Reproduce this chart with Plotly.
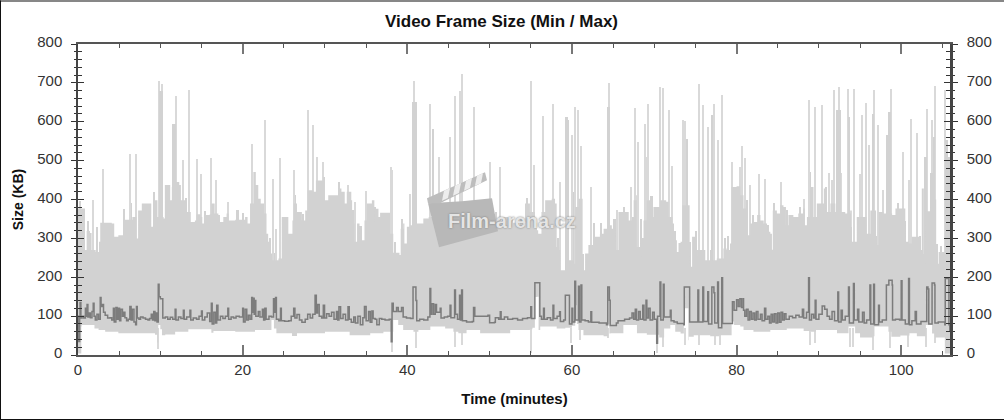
import plotly.graph_objects as go

# Upper edge of the Max band (minutes, KB)
max_edge = [(0,377),(0.8,377),(0.85,270),(1.05,319),(1.45,314),(1.65,270),(2.15,265),(2.55,291),(2.7,340),(4.1,338),(4.4,304),
(4.9,308),(5.5,312),(5.7,348),(6.6,355),(7.1,300),(7.3,372),(7.75,390),(8.6,390),(8.9,330),(9.2,398),(9.5,398),(9.65,355),
(10.4,351),(10.55,437),(11.1,437),(11.2,398),(11.4,432),(11.8,445),(12.3,437),(12.5,398),(13.0,390),(13.2,368),(13.6,368),
(13.7,342),(14.2,346),(14.4,362),(14.9,355),(15.1,338),(15.3,360),(16.0,362),(16.2,390),(16.6,364),(17.05,342),(17.65,355),
(18.05,364),(18.3,346),(19.1,348),(20.3,355),(20.6,338),(20.9,390),(21.3,471),(21.6,437),(21.9,402),(22.2,390),(22.6,364),
(22.9,312),(23.1,291),(23.3,261),(23.6,244),(24.35,248),(24.75,355),(25.55,312),(26.05,346),(26.2,390),(26.6,368),(27.2,346),
(27.6,372),(27.9,424),(28.6,420),(28.9,449),(29.8,458),(30.0,398),(30.4,411),(31.2,411),(31.6,428),(32,420),(32.4,390),
(32.65,420),(33.2,398),(33.3,338),(33.6,291),(33.9,338),(34.2,304),(34.5,295),(34.8,346),(35.1,390),(35.7,398),(36,342),
(36.2,376),(36.5,355),(36.7,366),(37.7,366),(37.9,312),(38.3,263),(39.05,257),(39.2,325),(39.5,338),(39.65,287),(39.95,330),
(40.35,334),(41.15,338),(41.95,351),(42.6,355),(43.5,345),(44.5,352),(45.5,330),(46.5,340),(47.5,345),(48.5,345),(49.5,340),
(50.5,345),(51.5,355),(52.5,340),(53.5,335),(54.0,335),(54.3,390),(54.9,368),(55.5,321),(55.9,312),(56.3,368),(56.75,398),
(57.55,402),(57.95,390),(58.15,278),(58.45,270),(58.6,218),(59.1,218),(59.2,244),(60.25,235),(60.4,381),(60.8,402),(61.2,402),
(61.3,218),(61.5,218),(61.6,261),(62,283),(62.6,304),(63,304),(63.4,312),(63.85,325),(64.45,334),(64.85,325),(65.25,270),
(65.65,368),(66.9,346),(67.3,355),(67.5,398),(67.8,411),(67.9,278),(68.3,304),(68.5,253),(68.7,346),(69.1,398),(69.5,355),
(69.9,381),(70.7,398),(71.45,394),(71.75,355),(72.2,338),(72.4,295),(72.75,265),(72.95,288),(73.2,291),(73.4,385),(74.2,385),
(74.3,227),(74.45,227),(74.6,304),(75,253),(75.2,270),(75.8,270),(76.2,244),(76.8,234),(77.1,244),(77.6,248),(78.2,248),
(78.4,274),(78.8,270),(79.2,287),(79.4,432),(80,434),(80.45,411),(80.85,377),(81.2,308),(81.65,338),(82.1,342),(82.5,360),
(82.9,346),(83.3,338),(83.7,317),(84.1,312),(84.3,271),(84.4,372),(84.9,364),(85.3,385),(85.7,381),(86,334),(86.3,360),
(86.9,355),(87.5,364),(88.1,377),(88.3,334),(88.55,355),(88.95,432),(89.35,355),(89.75,390),(90.6,428),(90.8,368),(91.4,390),
(92,368),(93.2,364),(93.8,372),(94,291),(94.6,355),(95.4,355),(95.8,312),(96.25,372),(96.95,283),(97.25,368),(97.85,364),
(98.9,360),(99.3,377),(100.1,377),(100.5,291),(100.9,287),(101.3,304),(101.9,304),(102.25,270),(102.5,428),(102.75,227),
(102.95,370),(103.55,380),(104.0,400),(104.25,235),(104.55,265),(105.15,265),(105.35,420),(105.95,420)]

# Lower edge of the Min band (minutes, KB)
min_edge = [(0,0),(0.4,4),(0.45,73),(0.65,77),(2,77),(2.5,68),(3.3,64),(4.9,60),(6.9,56),(9.35,56),(9.65,52),(9.75,32),
(10,77),(10.2,66),(10.6,51),(11.8,53),(13.4,60),(15,66),(16.2,66),(16.45,57),(19.1,62),(21.5,60),(23.5,64),(23.8,90),(24.1,68),
(26,56),(26.6,49),(28,56),(30,56),(31.6,60),(33,60),(33.25,51),(35.5,51),(37.1,56),(38.3,60),
(38.9,90),(39.5,77),(40.75,64),(41.35,60),(42.8,64),(44.6,73),(45.6,68),
(46.2,60),(47.2,56),(48.85,64),(50.45,56),(52.5,56),(54.9,64),(55.2,66),
(55.5,70),(55.55,150),(55.95,150),(56.15,64),(58.15,73),(59.2,68),(60.0,70),(60.4,75),(60.6,128),
(60.8,80),(61.4,64),(63.85,51),(64.4,48),(64.55,80),(64.7,55),(66.25,56),(67.9,77),(69.1,56),(70.6,52),
(71.2,45),(71.95,68),(72.55,77),(73.2,60),(73.6,55),(73.8,120),(74.15,120),(74.2,38),
(74.8,47),(75.5,51),(76.8,51),(77.9,48),(79.4,51),(79.7,86),
(80.45,77),(80.85,73),(82.05,64),(84.1,60),(86.1,64),(88.15,68),(89.05,62),
(89.65,60),(92.2,64),(93.6,56),(94.4,73),(95,56),(96.6,45),
(96.75,48),(98.45,73),(98.8,60),(99.9,47),(101,50),(101.9,56),(103,48),
(103.75,77),(104.1,55),(105.3,45),(105.35,4),(105.95,4)]

# Downward Min spikes (minutes, KB bottom)
low_t = [9.7,38.15,41.05,45.85,46.65,55.05,59.85,61.05,64.45,70.35,71.1,73.7,75.4,77.4,78,88.9,89.55,93.85,94.15,96.65,98.7,100.9,103.05,104.15]
low_kb = [15,8,17,20,26,5,30,38,43,6,21,26,26,26,26,26,30,21,21,13,17,21,21,30]

# Thin Max spikes (minutes, KB top)
spike_t = [1.85,3.1,6.3,7.1,9.85,10.25,11.9,12.7,13.5,14.4,15,16.15,16.8,18.2,21.1,22.7,23.75,24.0,24.6,26.2,28,28.5,29,29.8,
32.85,33.65,35,38,38.2,40.35,40.87,42.75,43.8,45.2,45.8,46.35,46.6,48.05,50,51.3,55,55.4,56.55,57.7,58.5,60,60.35,60.8,
61.1,62.3,64.45,65.45,67.15,67.7,68,68.9,69.1,69.3,70.7,71.1,71.85,72.2,73.5,73.7,75.4,75.9,76.5,77.3,77.7,78.2,
79.45,80.4,80.7,81.05,81.6,82.7,83.4,85.4,88.15,88.75,89.55,90.35,91.25,91.6,91.9,92.4,92.7,93.6,94.25,95,95.3,95.75,
96.15,96.75,97.2,97.8,98.75,100.2,100.9,101.25,101.95,103.1,103.8,104.05,105.35]
spike_kb = [398,479,518,516,706,698,665,502,682,505,466,507,449,394,543,605,454,323,507,475,629,591,509,496,
437,394,422,484,475,415,706,646,509,562,665,680,723,638,496,484,706,488,616,646,445,565,639,629,
537,432,699,372,432,636,548,595,509,646,689,687,629,485,605,602,698,642,586,646,552,670,
497,484,537,508,437,465,454,445,402,657,638,642,467,449,682,689,467,685,685,465,618,648,
539,681,591,424,685,522,449,608,571,633,605,691,682]

# Shorter Max spikes, inside gaps of the band edge (minutes, KB top)
short_t = [0.3,1.2,2.3,5.6,6.4,8.8,9.3,12.15,13.1,15.5,17.2,19.4,20.1,23.35,23.9,25.4,26.4,27.4,31.7,33.4,34.35,36.1,37.9,38.5,39.35,
44.2,46.1,47.4,49.6,50.8,52.7,53.9,54.6,55.7,58.3,59.4,60.1,61.4,62.7,63.6,65.2,66.4,68.4,68.6,69.7,72.6,74.4,75.1,76.0,76.9,
78.6,79.0,81.3,82.0,83.9,84.6,86.2,87.7,89.0,90.9,93.9,95.6,97.0,99.6,100.5,102.3,102.8,104.4,104.9]
short_kb = [395,345,330,375,392,360,420,430,405,370,360,372,366,300,262,340,412,362,445,372,332,380,350,290,350,
385,380,372,362,368,352,350,405,340,300,270,420,260,340,340,350,380,350,300,410,320,290,320,310,270,
300,305,400,360,335,392,372,382,470,432,330,345,305,392,345,305,260,285,280]

# Wider Max blocks (minutes, KB top)
block_t = [9.95,10.2,11.55,11.7,40.7,41.0,43.15,59.35,59.55,64.45,74.0,77.0,92.25,92.5,93.65,96.6,98.35,98.6,102.95,103.7,104.0,105.5,105.75]
block_kb = [680,680,595,595,650,650,582,612,605,638,556,617,629,629,612,620,565,625,509,467,560,552,510]

# Average frame-size line (minutes, KB)
avg_line = [(0,100),(0.1,35),(0.2,100),(0.25,135),(0.35,95),(0.5,100),(0.7,95),(0.9,120),(1,100),(1.1,130),(1.2,98),(1.35,108),(1.5,96),
(1.7,112),(1.85,133),(1.95,100),(2.1,90),(2.3,105),(2.5,92),(2.7,148),(2.8,125),(2.95,130),(3.1,110),(3.3,102),(3.6,95),(3.9,96),
(4.1,90),(4.3,120),(4.4,85),(4.6,122),(4.75,92),(4.9,120),(5.05,88),(5.2,118),(5.4,100),(5.55,110),(5.7,96),(5.9,88),(6.1,92),
(6.3,125),(6.45,90),(6.6,118),(6.8,85),(7,78),(7.1,125),(7.2,95),(7.4,92),(7.6,98),(7.9,95),(8.2,92),(8.5,90),(8.7,94),(8.9,105),
(9.05,90),(9.2,112),(9.35,88),(9.5,108),(9.6,85),(9.75,182),(9.85,150),(10,145),(10.25,145),(10.3,95),(10.6,98),(10.9,92),(11.2,97),
(11.5,92),(11.8,118),(11.9,90),(12.2,98),(12.5,94),(12.8,115),(12.9,92),(13.2,98),(13.6,115),(13.7,90),(14,95),(14.4,92),(14.7,100),
(15,113),(15.1,90),(15.4,98),(15.7,108),(16,86),(16.2,133),(16.3,80),(16.5,110),(16.7,82),(16.85,128),(17,90),(17.3,100),(17.6,94),
(17.9,100),(18.2,120),(18.3,92),(18.6,98),(18.9,95),(19.2,100),(19.6,98),(20,120),(20.1,85),(20.3,118),(20.5,90),(20.7,102),(20.9,92),
(21.1,148),(21.2,110),(21.3,146),(21.4,105),(21.5,140),(21.6,100),(21.9,112),(22.1,98),(22.4,118),(22.55,90),(22.7,120),(22.85,92),
(23.2,100),(23.5,98),(23.75,145),(23.85,110),(24,148),(24.1,92),(24.4,88),(24.6,120),(24.7,88),(25.1,87),(25.6,88),(25.9,100),(26.2,120),
(26.35,95),(26.6,104),(26.9,90),(27.2,84),(27.6,92),(27.9,105),(28.2,95),(28.5,105),(28.8,154),(28.95,108),(29.1,130),(29.3,100),
(29.6,95),(29.8,128),(29.95,95),(30.2,106),(30.5,100),(30.8,110),(31.1,92),(31.4,112),(31.55,90),(31.7,124),(31.9,94),(32.2,105),
(32.5,90),(32.8,124),(32.95,92),(33.2,84),(33.5,98),(33.7,82),(34,100),(34.3,78),(34.6,96),(34.8,125),(35,88),(35.3,112),(35.5,84),
(35.7,113),(35.85,94),(36.1,92),(36.3,78),(36.6,94),(36.9,92),(37.3,90),(37.8,92),(38.05,34),(38.15,133),(38.3,112),(38.7,122),(38.9,112),
(39.3,122),(39.5,98),(39.9,95),(40.4,94),(40.7,175),(41,175),(41.05,140),(41.15,88),(41.5,92),(42,90),(42.5,98),(42.75,171),(42.85,105),
(43,132),(43.2,105),(43.4,130),(43.55,110),(44,120),(44.1,95),(44.5,98),(44.9,100),(45.2,128),(45.3,96),(45.75,167),(45.85,105),
(46.1,92),(46.35,154),(46.45,90),(46.6,167),(46.7,88),(47.2,85),(47.9,86),(48.05,122),(48.2,100),(49.8,102),(50,83),(50.6,84),(50.7,96),
(51.1,92),(51.3,111),(51.4,92),(51.8,98),(52.2,92),(52.8,94),(53.4,90),(54,94),(54.6,96),(55,124),(55.1,94),(55.5,186),(56.05,186),
(56.1,100),(56.3,92),(56.55,120),(56.65,92),(57,96),(57.4,90),(57.7,128),(57.8,94),(58.2,100),(58.5,111),(58.6,86),(59,90),(59.2,154),
(59.65,154),(59.7,80),(60,120),(60.1,85),(60.35,190),(60.45,90),(60.8,177),(60.9,85),(61.1,180),(61.2,90),(61.6,88),(62,85),(62.3,111),
(62.4,84),(63.3,82),(64.2,78),(64.35,175),(64.55,141),(64.65,76),(65.4,82),(65.6,88),(66.4,92),(67,95),(67.3,108),(67.5,92),(67.7,118),
(67.85,90),(68.1,112),(68.3,92),(68.6,128),(68.75,90),(69,141),(69.1,95),(69.3,120),(69.5,90),(69.8,110),(70,92),(70.3,30),(70.4,100),
(70.7,188),(70.8,90),(71.1,182),(71.2,98),(71.5,98),(71.95,115),(72.05,88),(72.4,85),(72.8,81),(73.6,78),(73.65,175),(74.25,175),
(74.3,85),(75.3,167),(75.4,85),(75.9,175),(76,86),(76.5,163),(76.6,80),(77,175),(77.25,160),(77.35,82),(77.7,188),(77.8,70),(78.2,199),
(78.3,81),(79.4,81),(79.5,137),(79.7,115),(80,142),(80.2,125),(80.4,145),(80.6,122),(80.8,145),(80.85,115),(81,100),(81.2,118),
(81.4,90),(81.6,112),(81.8,92),(82,108),(82.2,90),(82.4,112),(82.6,92),(82.9,105),(83.1,88),(83.4,120),(83.55,92),(83.8,100),(84,82),
(84.2,105),(84.4,85),(84.6,106),(84.8,82),(85,108),(85.2,84),(85.4,110),(85.6,90),(85.8,106),(86,92),(86.4,100),(86.8,96),(87.2,102),
(87.6,98),(88,118),(88.15,95),(88.5,110),(88.75,199),(88.85,90),(89.1,105),(89.35,95),(89.55,141),(89.65,92),(90,105),(90.4,126),
(90.7,118),(91,100),(91.3,92),(91.6,112),(91.9,88),(92.3,162),(92.4,85),(92.7,115),(92.85,90),(93.2,100),(93.6,175),(93.7,82),(94.2,184),
(94.3,90),(94.7,118),(94.85,85),(95.3,110),(95.5,82),(95.8,90),(96.2,180),(96.3,80),(96.65,182),(96.75,78),(97.25,128),(97.35,85),
(97.7,90),(98.2,180),(98.5,192),(98.9,180),(98.95,90),(99.3,92),(99.8,90),(100,191),(100.1,90),(100.5,80),(100.9,197),(101,78),(101.3,88),
(101.7,112),(101.85,80),(102.4,86),(103.1,175),(103.25,170),(103.35,80),(103.75,185),(104.05,180),(104.1,82),(104.5,85),(105.3,78),
(105.35,197),(105.75,197),(105.8,78),(105.9,62),(106,60)]

x_ticks = [0, 20, 40, 60, 80, 100]
y_ticks = [0, 100, 200, 300, 400, 500, 600, 700, 800]
chart_title = "Video Frame Size (Min / Max)"
x_title = "Time (minutes)"
y_title = "Size (KB)"
watermark = "Film-arena.cz"

W, H = 1004, 420
L, R, T, B = 78, 951, 43.5, 355
BAND = "#d2d2d2"
THIN = "#d9d9d9"
DARK = "#7c7c7c"
FONT = "Liberation Sans"
XMAX = 106.05


def px(x):
    return (x - L) / (R - L)


def py(y):
    return (B - y) / (B - T)


def poly(points):
    return "M " + " L ".join(f"{px(a):.5f},{py(b):.5f}" for a, b in points) + " Z"


max_t, max_v = zip(*max_edge)
min_t, min_v = zip(*min_edge)
avg_t, avg_v = zip(*avg_line)

fig = go.Figure()
fig.add_trace(go.Scatter(x=list(max_t) + list(min_t)[::-1], y=list(max_v) + list(min_v)[::-1],
                         mode="lines", fill="toself", fillcolor=BAND, line=dict(width=0, shape="hv"), hoverinfo="skip", name="Min / Max"))
fig.add_trace(go.Bar(x=low_t, y=[70 - v for v in low_kb], base=low_kb, width=0.16, marker=dict(color=THIN, line=dict(width=0)), name="Min"))
fig.add_trace(go.Bar(x=short_t, y=[v - 150 for v in short_kb], base=150, width=0.2, marker=dict(color=BAND, line=dict(width=0)), name="Max"))
fig.add_trace(go.Bar(x=spike_t, y=[v - 150 for v in spike_kb], base=150, width=0.13, marker=dict(color=THIN, line=dict(width=0)), name="Max"))
fig.add_trace(go.Bar(x=block_t, y=[v - 150 for v in block_kb], base=150, width=0.3, marker=dict(color=BAND, line=dict(width=0)), name="Max"))
fig.add_trace(go.Scatter(x=avg_t, y=avg_v, mode="lines", line=dict(color=DARK, width=1.5, shape="hv"), name="Average"))
# carriers for the mirrored axes
fig.add_trace(go.Scatter(x=[0], y=[0], xaxis="x2", yaxis="y2", mode="markers", marker=dict(opacity=0), hoverinfo="skip"))
fig.add_trace(go.Scatter(x=[0], y=[0], xaxis="x", yaxis="y3", mode="markers", marker=dict(opacity=0), hoverinfo="skip"))
fig.add_trace(go.Scatter(x=[0], y=[0], xaxis="x", yaxis="y4", mode="markers", marker=dict(opacity=0), hoverinfo="skip"))

tickfont = dict(family=FONT, size=15, color="#333333")
x_common = dict(range=[0, XMAX], tickmode="array", tickvals=x_ticks, ticks="inside", ticklen=10, tickwidth=2, tickcolor="#777777",
                showgrid=False, zeroline=False, showline=True, linecolor="#555555", linewidth=1.5,
                minor=dict(dtick=5, tick0=0, ticks="inside", ticklen=4, tickwidth=1, tickcolor="#555555", showgrid=False))
y_common = dict(range=[0, 800], tickmode="array", tickvals=y_ticks, tickwidth=1, tickcolor="#333333",
                showgrid=False, zeroline=False, showline=True, linecolor="#444444", linewidth=1.5)
minor_out = dict(dtick=20, tick0=0, ticks="outside", ticklen=2, tickwidth=1, tickcolor="#333333", showgrid=False)
minor_in = dict(dtick=20, tick0=0, ticks="inside", ticklen=4, tickwidth=1, tickcolor="#333333", showgrid=False)

frame = [
    dict(type="rect", xref="paper", yref="paper", x0=px(0), x1=px(W), y0=py(1), y1=py(0), fillcolor="#111111", line=dict(width=0)),
    dict(type="rect", xref="paper", yref="paper", x0=px(0), x1=px(W), y0=py(420), y1=py(419), fillcolor="#111111", line=dict(width=0)),
    dict(type="rect", xref="paper", yref="paper", x0=px(0), x1=px(1), y0=py(420), y1=py(0), fillcolor="#111111", line=dict(width=0)),
]
# Clapperboard watermark
mark = [
    dict(type="path", xref="paper", yref="paper", layer="above", line=dict(width=0), fillcolor="#b8b8b8",
         path=poly([(428, 203), (439, 247), (498, 231), (492, 198), (462, 201)])),
    dict(type="path", xref="paper", yref="paper", layer="above", line=dict(width=0), fillcolor="#bdbdbd",
         path=poly([(427, 198), (485, 172), (487, 180), (440, 203), (428, 203)])),
]
for a, b in [(444, 450), (455, 461), (466, 472), (477, 483)]:
    top = lambda x: 198 - (x - 427) * 26 / 58
    mark.append(dict(type="path", xref="paper", yref="paper", layer="above", line=dict(width=0), fillcolor="#ededed",
                     path=poly([(a, top(a)), (b, top(b)), (b - 2, top(b) + 10), (a - 2, top(a) + 10)])))

fig.update_layout(
    width=W, height=H, autosize=False, showlegend=False, barmode="overlay", bargap=0,
    paper_bgcolor="white", plot_bgcolor="white",
    margin=dict(l=L, r=W - R, t=T, b=H - B, pad=0),
    xaxis=dict(**x_common, side="bottom", anchor="y", tickfont=tickfont, ticktext=[str(v) for v in x_ticks],
               title=dict(text=f"<b>{x_title}</b>", font=dict(family=FONT, size=15, color="#111111"), standoff=17)),
    xaxis2=dict(**x_common, side="top", anchor="y", overlaying="x", showticklabels=False),
    yaxis=dict(**y_common, side="left", ticks="outside", ticklen=5, tickfont=tickfont, ticklabelstandoff=6, ticklabelshift=-2,
               title=dict(text=f"<b>{y_title}</b>", font=dict(family=FONT, size=14, color="#111111"), standoff=10),
               minor=minor_out),
    yaxis2=dict(**y_common, side="right", overlaying="y", anchor="x2", ticks="outside", ticklen=5, tickfont=tickfont, ticklabelstandoff=6, ticklabelshift=-2,
                minor=minor_out),
    yaxis3=dict(**y_common, side="left", overlaying="y", anchor="x", ticks="inside", ticklen=6, showticklabels=False, minor=minor_in),
    yaxis4=dict(**y_common, side="right", overlaying="y", anchor="free", position=1, ticks="inside", ticklen=6, showticklabels=False, minor=minor_in),
    shapes=frame + mark,
    annotations=[
        dict(text=f"<b>{chart_title}</b>", xref="paper", yref="paper", x=px(501.5), y=py(21), xanchor="center", yanchor="middle",
             showarrow=False, font=dict(family=FONT, size=17, color="#111111")),
        dict(text=f"<b>{watermark}</b>", xref="paper", yref="paper", x=px(512), y=py(221), xanchor="center", yanchor="middle",
             showarrow=False, font=dict(family=FONT, size=20, color="#e4e4e4", shadow="0px 0px 2px #707070")),
    ],
)

fig.write_html("out.html", config=dict(displayModeBar=False), post_script="document.body.style.margin='0';")
